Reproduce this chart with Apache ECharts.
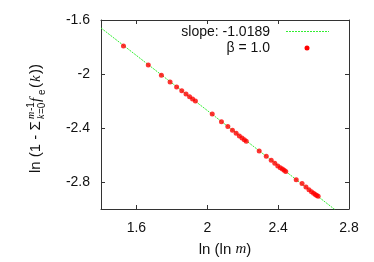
<!DOCTYPE html>
<html><head><meta charset="utf-8">
<script src="https://cdn.jsdelivr.net/npm/echarts@6/dist/echarts.min.js"></script>
<style>html,body{margin:0;padding:0;background:#fff}#c{width:374px;height:262px}</style>
</head><body><div id="c"></div>
<script>
// ln(ln m) values
const xValues = [1.527,1.667,1.741,1.790,1.827,1.856,1.880,1.900,1.917,1.933,
  2.028,2.080,2.116,2.142,2.163,2.181,2.196,2.209,2.220,
  2.293,2.333,2.361,2.381,2.398,2.412,2.424,2.434,2.443,
  2.502,2.535,2.557,2.574,2.588,2.600,2.610,2.618,2.626];
// ln(1 - sum f_e(k))
const yValues = [-1.793,-1.933,-2.010,-2.059,-2.096,-2.124,-2.148,-2.168,-2.185,-2.200,
  -2.296,-2.353,-2.388,-2.417,-2.439,-2.459,-2.474,-2.487,-2.499,
  -2.570,-2.610,-2.639,-2.662,-2.681,-2.694,-2.704,-2.713,-2.723,
  -2.783,-2.812,-2.837,-2.857,-2.872,-2.884,-2.893,-2.900,-2.906];
// fitted line endpoints
const fitX = [1.4, 2.72];
const fitY = [-1.659, -3.004];
const xTicks = [1.6, 2, 2.4, 2.8];
const yTicks = [-2.8, -2.4, -2, -1.6];
const fitName = 'slope: -1.0189';
const dataName = 'β = 1.0';

const pts = xValues.map((x, i) => [x, yValues[i]]);
const line = fitX.map((x, i) => [x, fitY[i]]);

const SANS = '"Liberation Sans", Arial, sans-serif';
const SERIF = '"Liberation Serif", "Times New Roman", serif';
const GREEN = '#33ee33', RED = '#ff0000', INK = '#111';

const F15 = '15px ' + SANS, F10 = '10px ' + SANS;
const I15 = 'italic 15px ' + SERIF, I10 = 'italic 10px ' + SERIF;
const pieces = [];
function add(text, font, x, base, size) {
  pieces.push({ type: 'text', x: x, y: base - 0.32 * size,
    style: { text: text, font: font, fill: INK, verticalAlign: 'middle', align: 'left' } });
}
add('ln (1 - Σ', F15, 0, 0, 15);
add('k', I10, 54, 4, 10); add('=0', F10, 59, 4, 10);
add('m', I10, 54, -6.5, 10); add('-1', F10, 62, -6.5, 10);
add('f', I15, 71, 0, 15);
add('e', F10, 78, 4, 10);
add('(', F15, 85, 0, 15);
add('k', I15, 91, 0, 15);
add('))', F15, 99, 0, 15);

const axisCommon = {
  axisLine: { show: true, lineStyle: { color: '#333', width: 1 } },
  splitLine: { show: false }
};

const chart = echarts.init(document.getElementById('c'), null, { renderer: 'canvas' });
chart.setOption({
  animation: false,
  grid: { left: 101, right: 25, top: 20, bottom: 53 },
  xAxis: [
    Object.assign({}, axisCommon, {
      type: 'value', min: 1.4, max: 2.8, position: 'bottom',
      axisTick: { show: true, inside: true, length: 4, customValues: xTicks, lineStyle: { color: '#333' } },
      axisLabel: { customValues: xTicks, margin: 12, color: INK, fontSize: 14, fontFamily: SANS },
      name: '{a|ln (ln }{i|m}{a|)}', nameLocation: 'middle', nameGap: 33,
      nameTextStyle: { rich: { a: { fontSize: 15, fontFamily: SANS, color: INK }, i: { fontSize: 15, fontFamily: SERIF, fontStyle: 'italic', color: INK } } }
    }),
    Object.assign({}, axisCommon, {
      type: 'value', min: 1.4, max: 2.8, position: 'top',
      axisTick: { show: true, inside: true, length: 4, customValues: xTicks, lineStyle: { color: '#333' } },
      axisLabel: { show: false }
    })
  ],
  yAxis: [
    Object.assign({}, axisCommon, {
      type: 'value', min: -3, max: -1.6, position: 'left',
      axisTick: { show: true, inside: true, length: 4, customValues: yTicks, lineStyle: { color: '#333' } },
      axisLabel: { customValues: yTicks, margin: 11, color: INK, fontSize: 14, fontFamily: SANS }
    }),
    Object.assign({}, axisCommon, {
      type: 'value', min: -3, max: -1.6, position: 'right',
      axisTick: { show: true, inside: true, length: 4, customValues: yTicks, lineStyle: { color: '#333' } },
      axisLabel: { show: false }
    })
  ],
  series: [
    { name: fitName, type: 'line', data: line, showSymbol: false, symbol: 'none', clip: true,
      lineStyle: { color: GREEN, width: 1, type: [2, 1] }, itemStyle: { color: GREEN }, z: 2 },
    { name: dataName, type: 'scatter', data: pts, symbol: 'circle', symbolSize: 5,
      itemStyle: { color: RED }, z: 3 }
  ],
  graphic: [
    { type: 'group', x: 41, y: 173, rotation: Math.PI / 2, children: pieces },
    { type: 'text', x: 270, y: 32, style: { text: fitName, font: '14px ' + SANS, fill: INK, align: 'right', verticalAlign: 'middle' } },
    { type: 'line', shape: { x1: 286, y1: 31.5, x2: 329, y2: 31.5 }, style: { stroke: GREEN, lineWidth: 1, lineDash: [2, 1] } },
    { type: 'text', x: 270, y: 48, style: { text: dataName, font: '14px ' + SANS, fill: INK, align: 'right', verticalAlign: 'middle' } },
    { type: 'circle', shape: { cx: 307, cy: 48, r: 2.5 }, style: { fill: RED } }
  ]
});
</script></body></html>
